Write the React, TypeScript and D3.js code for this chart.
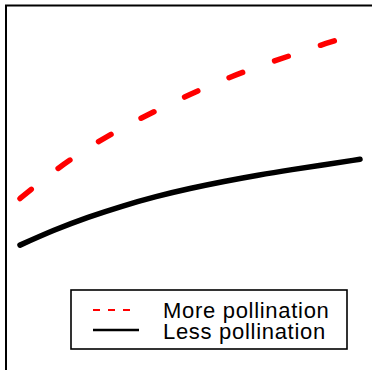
import * as d3 from "d3";

// values (arbitrary units)
const xs = [0, 1, 2, 3, 4, 5, 6, 7, 8, 9, 10];
const morePollination = [47.7, 55.0, 61.3, 66.7, 71.4, 75.8, 79.8, 83.3, 86.5, 89.6, 92.4];
const lessPollination = [35.1, 39.1, 42.6, 45.6, 48.2, 50.4, 52.3, 54.0, 55.5, 56.9, 58.3];
const legendLabels = ["More pollination", "Less pollination"];

const W = 372;
const H = 370;
const FONT = "'Liberation Sans', Arial, Helvetica, sans-serif";

const App = () => {
  const x = d3.scaleLinear().domain([0, 10]).range([20, 360]);
  const y = d3.scaleLinear().domain([0, 100]).range([375, 5]);

  const line = d3
    .line<number>()
    .x((_, i) => x(xs[i]))
    .y((d) => y(d))
    .curve(d3.curveNatural);

  const lg = { x: 71, y: 290, w: 276, h: 59 };

  return (
    <svg
      width={W}
      height={H}
      style={{ position: "absolute", left: 0, top: 0, background: "#fff" }}
    >
      {/* plot frame, cropped on right and bottom */}
      <rect x={6} y={5.5} width={420} height={420} fill="none" stroke="#000" strokeWidth={2} />

      <path
        d={line(lessPollination) ?? ""}
        fill="none"
        stroke="#000"
        strokeWidth={5.5}
        strokeLinecap="round"
      />
      <path
        d={line(morePollination) ?? ""}
        fill="none"
        stroke="#ff0000"
        strokeWidth={5.5}
        strokeLinecap="round"
        strokeDasharray="14.5,34"
      />

      {/* legend */}
      <g>
        <rect
          x={lg.x}
          y={lg.y}
          width={lg.w}
          height={lg.h}
          fill="#fff"
          stroke="#000"
          strokeWidth={1.6}
        />
        <line x1={93} x2={132} y1={310} y2={310} stroke="#ff0000" strokeWidth={2} strokeDasharray="7,8" />
        <line x1={93} x2={139} y1={330} y2={330} stroke="#000" strokeWidth={2.5} />
        {legendLabels.map((t, i) => (
          <text
            key={t}
            x={163}
            y={318 + i * 21}
            fontFamily={FONT}
            fontSize={22}
            letterSpacing={0.7}
            fill="#000"
          >
            {t}
          </text>
        ))}
      </g>
    </svg>
  );
};

export default App;
